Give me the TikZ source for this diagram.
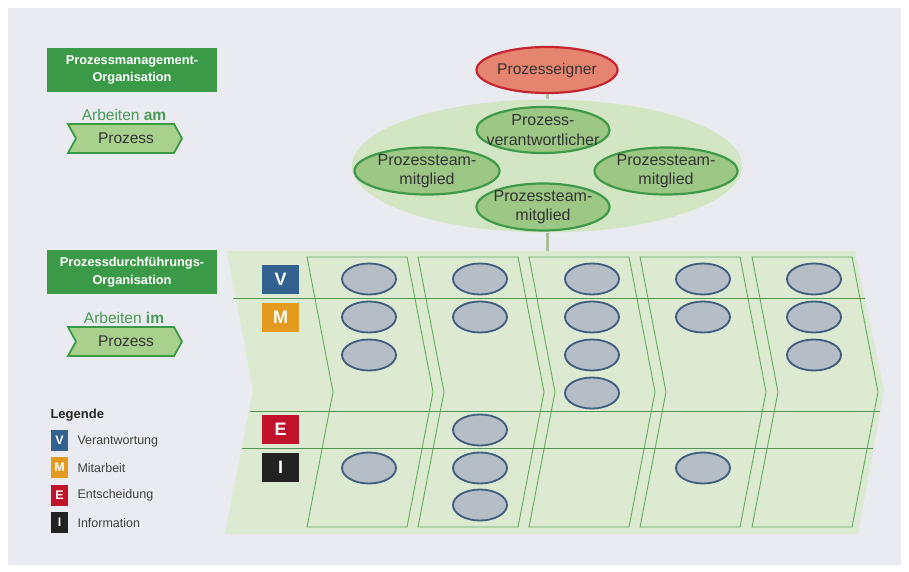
\documentclass[tikz,border=0pt]{standalone}
\usepackage{fontspec}
\setmainfont{Liberation Sans}
\usetikzlibrary{shapes.geometric}
\definecolor{bgc}{HTML}{E9EBF0}
\definecolor{hdrg}{HTML}{3B9A47}
\definecolor{chevf}{HTML}{A9D18E}
\definecolor{txtg}{HTML}{4C9A57}
\definecolor{procf}{HTML}{DBEAD0}
\definecolor{colln}{HTML}{62AD62}
\definecolor{ellf}{HTML}{B5BDC7}
\definecolor{ellb}{HTML}{3E5D7E}
\definecolor{bigf}{HTML}{D3E6C3}
\definecolor{innf}{HTML}{9DC785}
\definecolor{innb}{HTML}{3E9A48}
\definecolor{pef}{HTML}{E58570}
\definecolor{peb}{HTML}{C52430}
\definecolor{connc}{HTML}{A9BF9C}
\definecolor{rv}{HTML}{336190}
\definecolor{rm}{HTML}{E39A1F}
\definecolor{re}{HTML}{C0122A}
\definecolor{ri}{HTML}{222222}
\definecolor{dtxt}{HTML}{333333}
\begin{document}
\begin{tikzpicture}[x=1pt,y=-1pt,
  ell/.style={ellipse, draw=ellb, fill=ellf, line width=1.8pt, minimum width=54pt, minimum height=31pt, inner sep=0pt},
  role/.style={minimum width=37pt, minimum height=29pt, inner sep=0pt, text=white, font=\bfseries\fontsize{18}{18}\selectfont},
  leg/.style={minimum width=17pt, minimum height=21pt, inner sep=0pt, text=white, font=\bfseries\fontsize{12.5}{12.5}\selectfont},
  legtxt/.style={anchor=west, text=black!75, font=\fontsize{12.5}{13}\selectfont},
  hdr/.style={fill=hdrg, minimum width=170pt, minimum height=44pt, inner sep=0pt, text=white, align=center, font=\bfseries\fontsize{12.8}{17.5}\selectfont},
  chev/.style={fill=chevf, draw=hdrg, line width=1.8pt, line join=miter},
  arb/.style={text=txtg, font=\fontsize{15.5}{15.5}\selectfont},
  inn/.style={ellipse, draw=innb, fill=innf, line width=2.2pt, inner sep=0pt},
  inntxt/.style={align=center, text=dtxt, font=\fontsize{16}{19.5}\selectfont},
  colshape/.style={draw=colln, line width=0.9pt, line join=miter},
  hline/.style={draw=colln!85!black, line width=0.9pt},
  conn/.style={draw=connc, line width=3pt}
]
\fill[white] (0,0) rectangle (909,572);
\useasboundingbox (0,0) rectangle (909,572);
\fill[bgc] (8,8) rectangle (901,565);

% left headers
\node[hdr] (h1) at (132,70) {Prozessmanagement-\\Organisation};
\node[arb] (a1) at (124,115) {Arbeiten \textbf{am}};
\draw[chev] (68,124) -- (174,124) -- (182,138.5) -- (174,153) -- (68,153) -- (76,138.5) -- cycle;
\node[text=dtxt, font=\fontsize{15.5}{15.5}\selectfont] (p1) at (126,138.5) {Prozess};

\node[hdr] (h2) at (132,272) {Prozessdurchführungs-\\Organisation};
\node[arb] (a2) at (124,318) {Arbeiten \textbf{im}};
\draw[chev] (68,327) -- (174,327) -- (182,341.5) -- (174,356) -- (68,356) -- (76,341.5) -- cycle;
\node[text=dtxt, font=\fontsize{15.5}{15.5}\selectfont] (p2) at (126,341.5) {Prozess};

% legend
\node[anchor=west, font=\bfseries\fontsize{13}{13}\selectfont, text=black!85] (lg) at (47,415) {Legende};
\node[leg, fill=rv] (lv) at (59.5,440.5) {V};
\node[legtxt] (lvt) at (74,441) {Verantwortung};
\node[leg, fill=rm] (lm) at (59.5,467.5) {M};
\node[legtxt] (lmt) at (74,468) {Mitarbeit};
\node[leg, fill=re] (le) at (59.5,495) {E};
\node[legtxt] (let) at (74,495.5) {Entscheidung};
\node[leg, fill=ri] (li) at (59.5,522.5) {I};
\node[legtxt] (lit) at (74,523) {Information};

% process area
\fill[procf] (227,251) -- (855,251) -- (884,390) -- (858,534) -- (225,534) -- (253,390) -- cycle;
\foreach \x in {307,418,529,640,752}
  \draw[colshape] (\x,257) -- ++(100,0) -- ++(26,135) -- ++(-26,135) -- ++(-100,0) -- ++(26,-135) -- cycle;
\draw[hline] (233,298) -- (865,298);
\draw[hline] (250,411) -- (880,411);
\draw[hline] (242,448) -- (873,448);

\node[role, fill=rv] (rV) at (280.5,279.5) {V};
\node[role, fill=rm] (rM) at (280.5,317.5) {M};
\node[role, fill=re] (rE) at (280.5,429.5) {E};
\node[role, fill=ri] (rI) at (280.5,467.5) {I};

\foreach \n/\x/\y in {a1/369/279, a2/369/317, a3/369/355, a4/369/468,
  b1/480/279, b2/480/317, b3/480/430, b4/480/468, b5/480/505,
  c1/592/279, c2/592/317, c3/592/355, c4/592/393,
  d1/703/279, d2/703/317, d3/703/468,
  e1/814/279, e2/814/317, e3/814/355}
  \node[ell] (e\n) at (\x,\y) {};

% top organisation
\node[ellipse, fill=bigf, minimum width=390pt, minimum height=133pt, inner sep=0pt] (big) at (547,166) {};
\node[ellipse, draw=peb, fill=pef, line width=2.2pt, minimum width=141pt, minimum height=46pt, inner sep=0pt, text=dtxt, font=\fontsize{15.6}{15.6}\selectfont] (pe) at (547,70) {Prozesseigner};
\coordinate (ptop) at (547,251);
\draw[conn] (pe.south) -- (big.north);
\draw[conn] (big.south) -- (ptop);

\node[inn, minimum width=133pt, minimum height=46pt, label={[inntxt]center:Prozess-\\verantwortlicher}] (pv) at (543,130) {};
\node[inn, minimum width=145pt, minimum height=47pt, label={[inntxt]center:Prozessteam-\\mitglied}] (tl) at (427,171) {};
\node[inn, minimum width=143pt, minimum height=47pt, label={[inntxt]center:Prozessteam-\\mitglied}] (tr) at (666,171) {};
\node[inn, minimum width=133pt, minimum height=47pt, label={[inntxt]center:Prozessteam-\\mitglied}] (tb) at (543,207) {};
\end{tikzpicture}
\end{document}
